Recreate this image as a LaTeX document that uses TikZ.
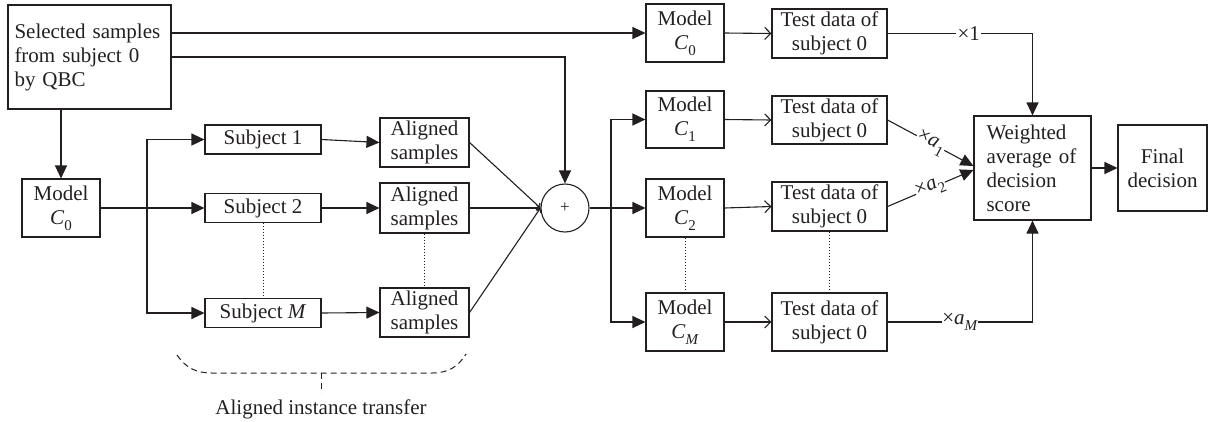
\documentclass[tikz,border=0pt]{standalone}
\usepackage{fontspec}
\setmainfont{Liberation Serif}
\usetikzlibrary{arrows.meta,calc}
\definecolor{ink}{HTML}{231F20}
\newcommand{\fs}{\fontsize{21}{24}\selectfont}
\newcommand{\vsub}[2]{\textit{#1}\raisebox{-0.28em}{\fontsize{15}{15}\selectfont #2}}
\tikzset{
  box/.style={draw=ink, text=ink, inner sep=0pt, align=center},
  fa/.style={-{Triangle[length=13pt,width=12pt]}},
  oa/.style={-{Straight Barb[length=6pt,width=12pt]}},
  sa/.style={-{Straight Barb[length=3pt,width=6pt]}},
  lbl/.style={fill=white, text=ink, inner sep=1.5pt},
  dots/.style={dotted, line width=1pt},
}
\begin{document}
\begin{tikzpicture}[x=1pt, y=-1pt, line width=1.1pt, draw=ink, font=\fs]
\useasboundingbox (0,0) rectangle (1210,421);

% source samples and the first model
\node[box, minimum width=163pt, minimum height=104pt, text width=150pt, align=left] (sel) at (89.5,57) {Selected samples\\from subject 0\\by QBC};
\node[box, minimum width=78pt, minimum height=58pt] (m0l) at (61,208) {Model\\\vsub{C}{0}};

% other subjects
\node[box, minimum width=116pt, minimum height=29pt] (s1) at (263,139.5) {Subject 1};
\node[box, minimum width=116pt, minimum height=29pt] (s2) at (263,208) {Subject 2};
\node[box, minimum width=116pt, minimum height=29pt] (sM) at (263,313) {Subject \textit{M}};

% aligned samples
\node[box, minimum width=89pt, minimum height=49pt] (a1) at (424.5,142.5) {Aligned\\samples};
\node[box, minimum width=89pt, minimum height=50pt] (a2) at (424.5,208) {Aligned\\samples};
\node[box, minimum width=89pt, minimum height=49pt] (aM) at (424.5,312.5) {Aligned\\samples};

% combination
\node[draw=ink, circle, minimum size=48pt, inner sep=0pt, font=\fontsize{17}{17}\selectfont, text=ink] (plus) at (565,208) {+};

% models
\node[box, minimum width=78pt, minimum height=58pt] (mc0) at (685,33) {Model\\\vsub{C}{0}};
\node[box, minimum width=78pt, minimum height=57pt] (mc1) at (685,119.5) {Model\\\vsub{C}{1}};
\node[box, minimum width=78pt, minimum height=58pt] (mc2) at (685,208) {Model\\\vsub{C}{2}};
\node[box, minimum width=78pt, minimum height=58pt] (mcM) at (685,322) {Model\\\vsub{C}{\textit{M}}};

% test data
\node[box, minimum width=115pt, minimum height=49pt] (t0) at (829.5,33.5) {Test data of\\subject 0};
\node[box, minimum width=115pt, minimum height=48pt] (t1) at (829.5,120) {Test data of\\subject 0};
\node[box, minimum width=115pt, minimum height=49pt] (t2) at (829.5,206.5) {Test data of\\subject 0};
\node[box, minimum width=115pt, minimum height=58pt] (tM) at (829.5,322) {Test data of\\subject 0};

% decision
\node[box, minimum width=117pt, minimum height=104pt, text width=92pt, align=left] (w) at (1032.5,168) {Weighted\\average of\\decision\\score};
\node[box, minimum width=89pt, minimum height=86pt] (fd) at (1162.5,168) {Final\\decision};

% branching points
\coordinate (sp1) at (147,208);
\coordinate (sp2) at (611,208);

% connectors from the selected samples
\draw[fa] (sel.east |- mc0.west) -- (mc0.west);
\draw[fa] (sel.east) -| (plus.north);
\draw[fa] (m0l.north |- sel.south) -- (m0l.north);

% model C0 to the subjects
\draw[fa] (m0l.east) -- (s2.west);
\draw[fa] (sp1) |- (s1.west);
\draw[fa] (sp1) |- (sM.west);

% subjects to aligned samples
\draw[fa] (s1.east) -- (a1.west);
\draw[fa] (s2.east) -- (a2.west);
\draw[fa] (sM.east) -- (aM.west);

% aligned samples into the sum
\draw[sa] (a1.east) -- (plus.west);
\draw[sa] (a2.east) -- (plus.west);
\draw[sa] (aM.east) -- (plus.west);

% sum to the models
\draw[fa] (plus.east) -- (mc2.west);
\draw[fa] (sp2) |- (mc1.west);
\draw[fa] (sp2) |- (mcM.west);

% models to test data
\draw[oa] (mc0.east) -- (t0.west);
\draw[oa] (mc1.east) -- (t1.west);
\draw[oa] (mc2.east) -- (t2.west);
\draw[oa] (mcM.east) -- (tM.west);

% weighted scores
\draw[fa] (t0.east) -| node[lbl, pos=0.28] {×1} (w.north);
\draw[fa] (t1.east) -- node[lbl, sloped, pos=0.5, inner sep=0.5pt] {×\vsub{a}{1}} ($(w.west)+(0,-2)$);
\draw[fa] (t2.east) -- node[lbl, sloped, pos=0.5, inner sep=0.5pt] {×\vsub{a}{2}} ($(w.west)+(0,2)$);
\draw[fa] (tM.east) -| node[lbl, pos=0.25, inner sep=0.5pt] {×\vsub{a}{\textit{M}}} (w.south);
\draw[fa] (w.east) -- (fd.west);

% ellipsis dots between repeated rows
\draw[dots] (s2.south) -- (sM.north);
\draw[dots] (a2.south) -- (aM.north);
\draw[dots] (mc2.south) -- (mcM.north);
\draw[dots] (t2.south) -- (tM.north);

% brace for the transfer stage
\coordinate (bl) at (177,355);
\coordinate (br) at (466,354);
\coordinate (bm) at (321,373);
\coordinate (bt) at (321,393);
\draw[dashed, dash pattern=on 6pt off 4pt, line width=1pt]
  (bl) .. controls (186,368) and (196,373) .. (212,373) -- (432,373)
  .. controls (448,373) and (458,367) .. (br);
\draw[dashed, dash pattern=on 6pt off 4pt, line width=1pt] (bm) -- (bt);
\node[text=ink, inner sep=0pt] (cap) at (321,409) {Aligned instance transfer};
\end{tikzpicture}
\end{document}
